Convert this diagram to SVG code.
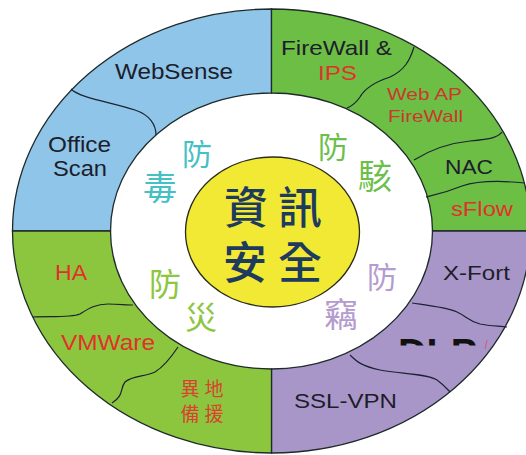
<svg xmlns="http://www.w3.org/2000/svg" width="526" height="455" viewBox="0 0 526 455">
<defs>
<style>
.lat{font-family:"Liberation Sans",Arial,sans-serif}
.dk{fill:#1d1d2b}
.rd{fill:#e0322a}
.rd2{fill:#c9392e}
.cjk{font-family:"Noto Sans CJK TC","Noto Sans CJK SC",sans-serif;text-anchor:middle;dominant-baseline:central}
.seg{stroke:#1f2a2a;stroke-width:1.3}
.div{fill:none;stroke:#1c2233;stroke-width:1.2}
</style>
<clipPath id="dlpclip"><rect x="390" y="338" width="95" height="7.5"/></clipPath>
</defs>
<rect width="526" height="455" fill="#ffffff"/>
<g id="ring">
<path id="q-tl" class="seg" fill="#8ec5e9" d="M12.5,231 A259,222 0 0 1 271.5,9 L271.5,93 A161,138 0 0 0 110.5,231 Z"/>
<path id="q-tr" class="seg" fill="#6dbe45" d="M271.5,9 A259,222 0 0 1 530.5,231 L432.5,231 A161,138 0 0 0 271.5,93 Z"/>
<path id="q-br" class="seg" fill="#a996c8" d="M530.5,231 A259,222 0 0 1 271.5,453 L271.5,369 A161,138 0 0 0 432.5,231 Z"/>
<path id="q-bl" class="seg" fill="#8cc63f" d="M271.5,453 A259,222 0 0 1 12.5,231 L110.5,231 A161,138 0 0 0 271.5,369 Z"/>
</g>
<g id="connectors">
<path class="div" d="M71,89 C80,98 110,102 135,110 C150,115 156,125 156,135"/>
<path class="div" d="M414,47 C410,60 405,70 390,77 C375,82 365,88 360,97 C356,103 352,106 347,108"/>
<path class="div" d="M502,132 C498,137 493,139 470,141 C450,143 430,150 414,160"/>
<path class="div" d="M426,197 C435,195 445,193 462,186 C480,180 505,181 525,183"/>
<path class="div" d="M33,317 C50,316 70,318 80,314 C88,309 95,304 108,304 C118,304 126,305 133,305"/>
<path class="div" d="M178,347 C172,356 165,366 155,372 C145,377 133,375 125,382 C120,388 124,396 112,403"/>
<path class="div" stroke="#2a1f4a" d="M412,303 C425,305 445,307 457,312 C466,316 468,321 480,324 C490,326 500,326 507,327"/>
<path class="div" stroke="#2a1f4a" d="M350,355 C357,362 362,366 380,370 C400,374 425,373 437,380 C444,385 447,389 450,392"/>
</g>
<g id="center">
<ellipse cx="272.5" cy="232" rx="87" ry="75" fill="#f2e934" stroke="#2a2a1a" stroke-width="1.3"/>
<g class="cjk" fill="#1e3b5e" font-size="44" font-weight="500">
<text x="246" y="205">資</text><text x="300" y="205">訊</text>
<text x="245" y="260">安</text><text x="300" y="260">全</text>
</g>
</g>
<g id="fangdu" class="cjk" fill="#45c0c4">
<text x="197" y="152" font-size="30">防</text>
<text x="160" y="185" font-size="34">毒</text>
</g>
<g id="fanghai" class="cjk" fill="#6cbf4a">
<text x="333" y="145" font-size="30">防</text>
<text x="375" y="174" font-size="34">駭</text>
</g>
<g id="fangzai" class="cjk" fill="#8dc63f">
<text x="165" y="282" font-size="32">防</text>
<text x="201" y="315" font-size="32">災</text>
</g>
<g id="fangqie" class="cjk" fill="#b49bd0">
<text x="382" y="275" font-size="30">防</text>
<text x="341" y="312" font-size="34">竊</text>
</g>
<g id="websense"><text class="lat dk" x="115" y="79" font-size="22" textLength="118" lengthAdjust="spacingAndGlyphs">WebSense</text></g>
<g id="officescan">
<text class="lat dk" x="48" y="152" font-size="22" textLength="63" lengthAdjust="spacingAndGlyphs">Office</text>
<text class="lat dk" x="53" y="176" font-size="22" textLength="54" lengthAdjust="spacingAndGlyphs">Scan</text>
</g>
<g id="firewall">
<text class="lat dk" x="281" y="55" font-size="21" textLength="111" lengthAdjust="spacingAndGlyphs">FireWall &amp;</text>
<text class="lat rd" x="318" y="80" font-size="21" textLength="39" lengthAdjust="spacingAndGlyphs">IPS</text>
</g>
<g id="webap">
<text class="lat rd2" x="387" y="100" font-size="17" textLength="75" lengthAdjust="spacingAndGlyphs">Web AP</text>
<text class="lat rd2" x="388" y="122" font-size="17" textLength="75" lengthAdjust="spacingAndGlyphs">FireWall</text>
</g>
<g id="nac"><text class="lat dk" x="445" y="174" font-size="21" textLength="48" lengthAdjust="spacingAndGlyphs">NAC</text></g>
<g id="sflow"><text class="lat rd" x="451" y="216" font-size="20" textLength="62" lengthAdjust="spacingAndGlyphs">sFlow</text></g>
<g id="ha"><text class="lat rd" x="55" y="280" font-size="22" textLength="32" lengthAdjust="spacingAndGlyphs">HA</text></g>
<g id="vmware"><text class="lat rd" x="61" y="350" font-size="22" textLength="94" lengthAdjust="spacingAndGlyphs">VMWare</text></g>
<g id="backup" class="cjk" fill="#d8422e" font-size="19">
<text x="190" y="387">異</text><text x="214" y="387">地</text>
<text x="190" y="412">備</text><text x="214" y="412">援</text>
</g>
<g id="xfort"><text class="lat dk" x="443" y="280" font-size="20" textLength="67" lengthAdjust="spacingAndGlyphs">X-Fort</text></g>
<g id="dlp">
<text class="lat" x="398" y="367" font-size="40" font-weight="bold" fill="#111" clip-path="url(#dlpclip)" textLength="79" lengthAdjust="spacingAndGlyphs">DLP</text>
<line x1="487" y1="340" x2="485" y2="349" stroke="#e0507a" stroke-width="1"/>
</g>
<g id="sslvpn"><text class="lat dk" x="294" y="408" font-size="21" textLength="103" lengthAdjust="spacingAndGlyphs">SSL-VPN</text></g>
</svg>
